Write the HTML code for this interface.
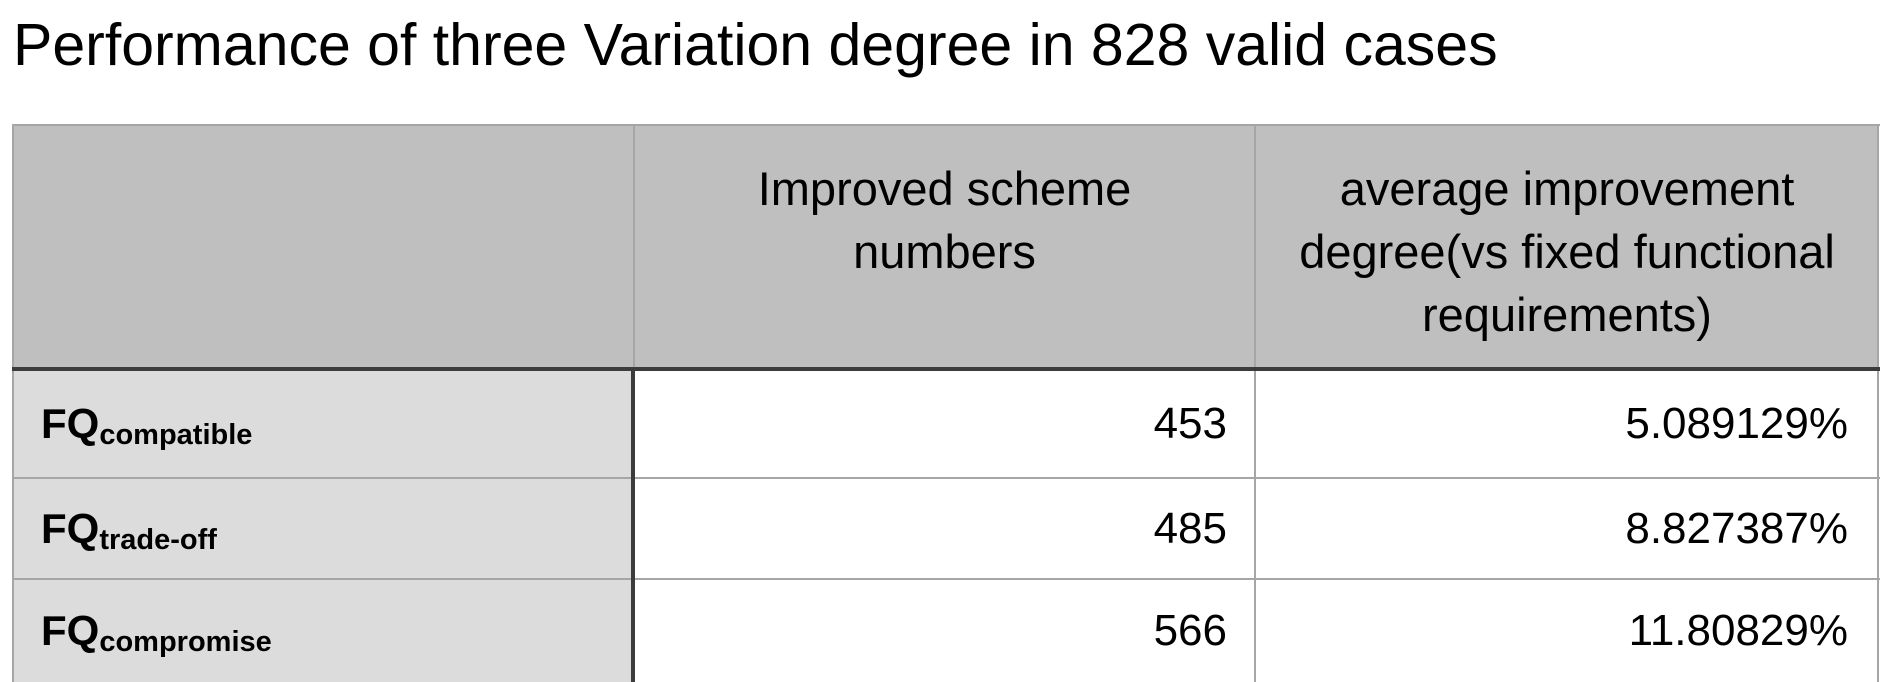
<!DOCTYPE html>
<html><head><meta charset="utf-8"><style>
body{margin:0;width:1880px;height:682px;overflow:hidden;background:#fff;font-family:"Liberation Sans",Arial,sans-serif;position:relative}
.t{position:absolute;left:13px;top:16px;font-size:59px;line-height:59px;color:#000;white-space:nowrap}
.c{position:absolute;box-sizing:border-box;color:#000}
.h{background:#bebfbe;font-size:47px;line-height:63px;text-align:center;padding-top:32px}
.lab{background:#dcdcdc;font-weight:bold;font-size:42px;padding-left:28px;display:flex;align-items:center}
.lab sub{font-size:29px;vertical-align:-6px;line-height:0}
.v{font-size:44px;display:flex;align-items:center;justify-content:flex-end}
.hl{position:absolute;background:#a6a6a6}
</style></head><body>
<div class="t">Performance of three Variation degree in 828 valid cases</div>
<div>
<div class="c h" style="left:13px;top:125px;width:620px;height:242px"></div>
<div class="c h" style="left:635px;top:125px;width:619px;height:242px">Improved scheme<br>numbers</div>
<div class="c h" style="left:1256px;top:125px;width:622px;height:242px">average improvement<br>degree(vs fixed functional<br>requirements)</div>

<div class="c lab" style="left:13px;top:371px;width:618px;height:106px"><span>FQ<sub>compatible</sub></span></div>
<div class="c lab" style="left:13px;top:479px;width:618px;height:99px"><span>FQ<sub>trade-off</sub></span></div>
<div class="c lab" style="left:13px;top:580px;width:618px;height:102px"><span>FQ<sub>compromise</sub></span></div>

<div class="c v" style="left:635px;top:371px;width:592px;height:106px">453</div>
<div class="c v" style="left:635px;top:479px;width:592px;height:99px">485</div>
<div class="c v" style="left:635px;top:580px;width:592px;height:102px">566</div>
<div class="c v" style="left:1256px;top:371px;width:592px;height:106px">5.089129%</div>
<div class="c v" style="left:1256px;top:479px;width:592px;height:99px">8.827387%</div>
<div class="c v" style="left:1256px;top:580px;width:592px;height:102px">11.80829%</div>

<div class="hl" style="left:12px;top:124px;width:1868px;height:2px"></div>
<div class="hl" style="left:12px;top:124px;width:2px;height:558px"></div>
<div class="hl" style="left:633px;top:124px;width:2px;height:245px"></div>
<div class="hl" style="left:1254px;top:124px;width:2px;height:558px"></div>
<div class="hl" style="left:1877px;top:124px;width:2px;height:558px"></div>
<div class="hl" style="left:12px;top:477px;width:1868px;height:2px"></div>
<div class="hl" style="left:12px;top:578px;width:1868px;height:2px"></div>
<div style="position:absolute;left:12px;top:367px;width:1868px;height:4px;background:#3c3c3c"></div>
<div style="position:absolute;left:631px;top:367px;width:4px;height:315px;background:#3c3c3c"></div>
</div>
</body></html>
